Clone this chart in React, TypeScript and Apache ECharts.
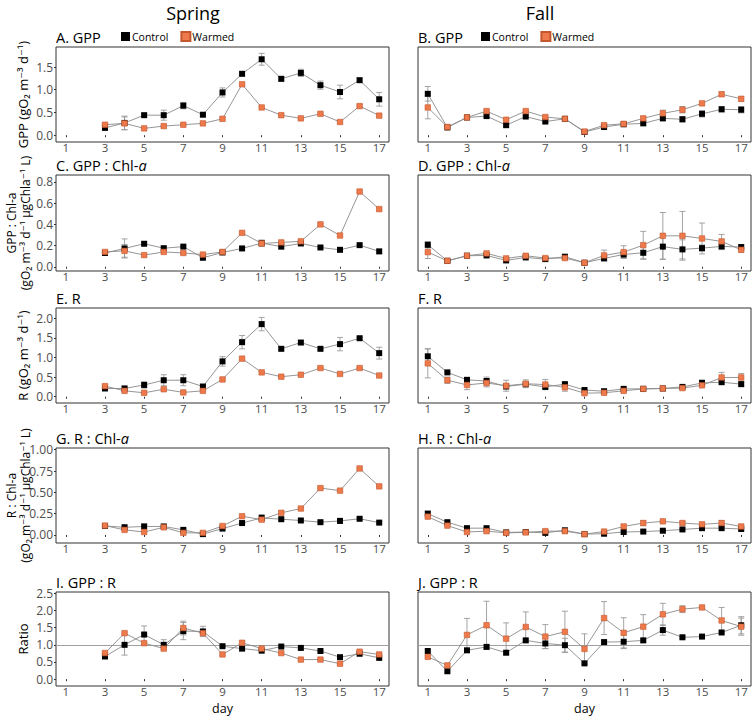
import React, { useEffect, useRef } from "react";
import * as echarts from "echarts";

// ---------- categories ----------
const days = ["1", "2", "3", "4", "5", "6", "7", "8", "9", "10", "11", "12", "13", "14", "15", "16", "17"];
const springStart = 2; // spring series start at day 3 (index 2)

// ---------- tick labels ----------
const gppTicks = [0, 0.5, 1.0, 1.5];
const gppChlTicks = [0, 0.2, 0.4, 0.6, 0.8];
const rTicks = [0, 0.5, 1.0, 1.5, 2.0];
const rChlTicks = [0, 0.25, 0.5, 0.75, 1.0];
const ratioTicks = [0, 0.5, 1.0, 1.5, 2.0, 2.5];

// ---------- A. GPP spring (days 3-17) ----------
const gppSpringControl = [0.16, 0.27, 0.44, 0.44, 0.65, 0.45, 0.94, 1.35, 1.67, 1.24, 1.37, 1.1, 0.95, 1.21, 0.79];
const gppSpringControlErr = [0.03, 0.15, 0.03, 0.11, 0.07, 0.03, 0.1, 0.04, 0.13, 0.05, 0.08, 0.09, 0.15, 0.04, 0.15];
const gppSpringWarmed = [0.23, 0.26, 0.15, 0.2, 0.23, 0.26, 0.36, 1.12, 0.61, 0.44, 0.37, 0.47, 0.29, 0.64, 0.43];
const gppSpringWarmedErr = [0.02, 0.14, 0.02, 0.02, 0.02, 0.02, 0.02, 0.02, 0.02, 0.02, 0.02, 0.02, 0.02, 0.03, 0.02];

// ---------- B. GPP fall (days 1-17) ----------
const gppFallControl = [0.91, 0.17, 0.39, 0.42, 0.22, 0.41, 0.3, 0.36, 0.07, 0.18, 0.24, 0.26, 0.37, 0.35, 0.47, 0.57, 0.56];
const gppFallControlErr = [0.16, 0.02, 0.02, 0.03, 0.02, 0.02, 0.02, 0.02, 0.02, 0.03, 0.02, 0.03, 0.05, 0.06, 0.07, 0.06, 0.07];
const gppFallWarmed = [0.61, 0.18, 0.39, 0.53, 0.34, 0.53, 0.4, 0.36, 0.08, 0.22, 0.25, 0.37, 0.48, 0.56, 0.7, 0.9, 0.8];
const gppFallWarmedErr = [0.25, 0.02, 0.02, 0.03, 0.02, 0.02, 0.03, 0.02, 0.02, 0.04, 0.02, 0.04, 0.07, 0.07, 0.02, 0.05, 0.05];

// ---------- C. GPP : Chl-a spring ----------
const gppChlSpringControl = [0.13, 0.173, 0.217, 0.175, 0.19, 0.085, 0.135, 0.173, 0.223, 0.19, 0.22, 0.182, 0.16, 0.204, 0.145];
const gppChlSpringControlErr = [0.01, 0.09, 0.01, 0.02, 0.01, 0.01, 0.01, 0.01, 0.03, 0.02, 0.01, 0.01, 0.02, 0.01, 0.02];
const gppChlSpringWarmed = [0.14, 0.15, 0.11, 0.14, 0.13, 0.115, 0.14, 0.32, 0.22, 0.23, 0.24, 0.4, 0.295, 0.71, 0.544];
const gppChlSpringWarmedErr = [0.01, 0.06, 0.01, 0.01, 0.01, 0.01, 0.01, 0.01, 0.02, 0.01, 0.01, 0.01, 0.01, 0.01, 0.01];

// ---------- D. GPP : Chl-a fall ----------
const gppChlFallControl = [0.207, 0.056, 0.104, 0.107, 0.06, 0.088, 0.072, 0.095, 0.038, 0.079, 0.116, 0.132, 0.19, 0.164, 0.176, 0.192, 0.186];
const gppChlFallControlErr = [0.03, 0.01, 0.01, 0.01, 0.01, 0.01, 0.01, 0.01, 0.01, 0.02, 0.03, 0.06, 0.12, 0.09, 0.03, 0.03, 0.02];
const gppChlFallWarmed = [0.138, 0.056, 0.104, 0.126, 0.079, 0.104, 0.082, 0.082, 0.038, 0.107, 0.138, 0.204, 0.292, 0.292, 0.267, 0.239, 0.16];
const gppChlFallWarmedErr = [0.06, 0.01, 0.01, 0.01, 0.01, 0.01, 0.01, 0.01, 0.01, 0.05, 0.06, 0.13, 0.22, 0.23, 0.146, 0.066, 0.02];

// ---------- E. R spring ----------
const rSpringControl = [0.21, 0.21, 0.3, 0.42, 0.42, 0.26, 0.9, 1.39, 1.85, 1.22, 1.38, 1.22, 1.34, 1.49, 1.11];
const rSpringControlErr = [0.02, 0.06, 0.08, 0.14, 0.14, 0.02, 0.12, 0.17, 0.17, 0.03, 0.05, 0.03, 0.17, 0.03, 0.15];
const rSpringWarmed = [0.27, 0.15, 0.1, 0.19, 0.11, 0.15, 0.44, 0.97, 0.62, 0.51, 0.56, 0.73, 0.58, 0.73, 0.54];
const rSpringWarmedErr = [0.02, 0.02, 0.02, 0.02, 0.02, 0.02, 0.02, 0.02, 0.02, 0.02, 0.02, 0.02, 0.02, 0.02, 0.02];

// ---------- F. R fall ----------
const rFallControl = [1.03, 0.62, 0.43, 0.4, 0.26, 0.32, 0.25, 0.32, 0.17, 0.14, 0.2, 0.2, 0.21, 0.25, 0.35, 0.37, 0.32];
const rFallControlErr = [0.19, 0.03, 0.03, 0.1, 0.03, 0.03, 0.04, 0.03, 0.02, 0.02, 0.02, 0.02, 0.02, 0.02, 0.08, 0.04, 0.04];
const rFallWarmed = [0.85, 0.42, 0.3, 0.35, 0.28, 0.33, 0.31, 0.24, 0.09, 0.1, 0.15, 0.2, 0.21, 0.22, 0.29, 0.49, 0.49];
const rFallWarmedErr = [0.37, 0.08, 0.12, 0.1, 0.14, 0.1, 0.13, 0.1, 0.03, 0.03, 0.03, 0.02, 0.04, 0.03, 0.04, 0.13, 0.1];

// ---------- G. R : Chl-a spring ----------
const rChlSpringControl = [0.106, 0.09, 0.1, 0.1, 0.06, 0.01, 0.075, 0.14, 0.2, 0.185, 0.17, 0.15, 0.165, 0.19, 0.145];
const rChlSpringControlErr = [0.01, 0.03, 0.03, 0.01, 0.01, 0.01, 0.01, 0.01, 0.04, 0.02, 0.01, 0.01, 0.03, 0.01, 0.01];
const rChlSpringWarmed = [0.11, 0.06, 0.035, 0.09, 0.025, 0.025, 0.105, 0.22, 0.18, 0.26, 0.31, 0.55, 0.52, 0.78, 0.57];
const rChlSpringWarmedErr = [0.01, 0.01, 0.01, 0.01, 0.01, 0.01, 0.01, 0.01, 0.01, 0.01, 0.01, 0.01, 0.01, 0.01, 0.01];

// ---------- H. R : Chl-a fall ----------
const rChlFallControl = [0.25, 0.15, 0.08, 0.08, 0.03, 0.035, 0.025, 0.055, 0.01, 0.015, 0.035, 0.04, 0.05, 0.065, 0.08, 0.08, 0.07];
const rChlFallControlErr = [0.03, 0.01, 0.01, 0.01, 0.01, 0.01, 0.01, 0.01, 0.01, 0.01, 0.01, 0.01, 0.01, 0.01, 0.01, 0.01, 0.01];
const rChlFallWarmed = [0.215, 0.11, 0.035, 0.045, 0.025, 0.03, 0.045, 0.045, 0.01, 0.04, 0.1, 0.14, 0.16, 0.14, 0.125, 0.14, 0.1];
const rChlFallWarmedErr = [0.02, 0.01, 0.02, 0.02, 0.01, 0.01, 0.02, 0.02, 0.01, 0.01, 0.02, 0.03, 0.01, 0.02, 0.02, 0.03, 0.02];

// ---------- I. GPP : R spring ----------
const ratioSpringControl = [0.66, 1.0, 1.3, 1.0, 1.4, 1.39, 0.96, 0.89, 0.83, 0.95, 0.91, 0.82, 0.64, 0.74, 0.62];
const ratioSpringControlErr = [0.03, 0.3, 0.25, 0.15, 0.25, 0.15, 0.03, 0.06, 0.03, 0.02, 0.02, 0.02, 0.02, 0.02, 0.02];
const ratioSpringWarmed = [0.76, 1.34, 1.05, 0.89, 1.49, 1.34, 0.72, 1.06, 0.89, 0.76, 0.57, 0.57, 0.45, 0.8, 0.72];
const ratioSpringWarmedErr = [0.03, 0.03, 0.03, 0.03, 0.2, 0.03, 0.03, 0.04, 0.02, 0.02, 0.02, 0.02, 0.02, 0.02, 0.02];

// ---------- J. GPP : R fall ----------
const ratioFallControl = [0.82, 0.23, 0.84, 0.94, 0.77, 1.13, 1.04, 0.99, 0.46, 1.08, 1.09, 1.13, 1.43, 1.22, 1.24, 1.36, 1.57];
const ratioFallControlErr = [0.05, 0.03, 0.03, 0.05, 0.03, 0.04, 0.15, 0.2, 0.03, 0.05, 0.2, 0.05, 0.15, 0.03, 0.03, 0.03, 0.25];
const ratioFallWarmed = [0.65, 0.4, 1.29, 1.57, 1.18, 1.52, 1.24, 1.38, 0.88, 1.78, 1.35, 1.53, 1.89, 2.04, 2.09, 1.71, 1.53];
const ratioFallWarmedErr = [0.03, 0.05, 0.48, 0.7, 0.46, 0.44, 0.35, 0.6, 0.44, 0.48, 0.44, 0.35, 0.32, 0.1, 0.03, 0.38, 0.25];

// ---------- layout (not data) ----------
const FONT = "'Open Sans', 'DejaVu Sans', sans-serif";
const W = 755;
const H = 716;
const COL_LEFT = [56, 418];
const GRID_W = 333;
const ROW_TOP = [47, 175, 308, 448, 592];
const ROW_H = [95, 96, 95, 95, 94];

type RowSpec = { min: number; max: number; ticks: number[]; dec: number; yTitle: string[] };
const rows: RowSpec[] = [
  { min: -0.15, max: 1.94, ticks: gppTicks, dec: 1, yTitle: ["GPP (gO\u2082 m\u207B\u00B3 d\u207B\u00B9)"] },
  { min: -0.04, max: 0.866, ticks: gppChlTicks, dec: 1, yTitle: ["GPP : Chl-a", "(gO\u2082 m\u207B\u00B3 d\u207B\u00B9 \u03BCgChla\u207B\u00B9 L)"] },
  { min: -0.16, max: 2.26, ticks: rTicks, dec: 1, yTitle: ["R (gO\u2082 m\u207B\u00B3 d\u207B\u00B9)"] },
  { min: -0.094, max: 1.02, ticks: rChlTicks, dec: 2, yTitle: ["R : Chl-a", "(gO\u2082 m\u207B\u00B3 d\u207B\u00B9 \u03BCgChla\u207B\u00B9 L)"] },
  { min: -0.2, max: 2.54, ticks: ratioTicks, dec: 1, yTitle: ["Ratio"] },
];

type Panel = {
  label: string;
  italic: string;
  row: number;
  col: number;
  start: number;
  control: number[];
  controlErr: number[];
  warmed: number[];
  warmedErr: number[];
};

const panels: Panel[] = [
  { label: "A. GPP", italic: "", row: 0, col: 0, start: springStart, control: gppSpringControl, controlErr: gppSpringControlErr, warmed: gppSpringWarmed, warmedErr: gppSpringWarmedErr },
  { label: "B. GPP", italic: "", row: 0, col: 1, start: 0, control: gppFallControl, controlErr: gppFallControlErr, warmed: gppFallWarmed, warmedErr: gppFallWarmedErr },
  { label: "C. GPP : Chl-", italic: "a", row: 1, col: 0, start: springStart, control: gppChlSpringControl, controlErr: gppChlSpringControlErr, warmed: gppChlSpringWarmed, warmedErr: gppChlSpringWarmedErr },
  { label: "D. GPP : Chl-", italic: "a", row: 1, col: 1, start: 0, control: gppChlFallControl, controlErr: gppChlFallControlErr, warmed: gppChlFallWarmed, warmedErr: gppChlFallWarmedErr },
  { label: "E. R", italic: "", row: 2, col: 0, start: springStart, control: rSpringControl, controlErr: rSpringControlErr, warmed: rSpringWarmed, warmedErr: rSpringWarmedErr },
  { label: "F. R", italic: "", row: 2, col: 1, start: 0, control: rFallControl, controlErr: rFallControlErr, warmed: rFallWarmed, warmedErr: rFallWarmedErr },
  { label: "G. R : Chl-", italic: "a", row: 3, col: 0, start: springStart, control: rChlSpringControl, controlErr: rChlSpringControlErr, warmed: rChlSpringWarmed, warmedErr: rChlSpringWarmedErr },
  { label: "H. R : Chl-", italic: "a", row: 3, col: 1, start: 0, control: rChlFallControl, controlErr: rChlFallControlErr, warmed: rChlFallWarmed, warmedErr: rChlFallWarmedErr },
  { label: "I. GPP : R", italic: "", row: 4, col: 0, start: springStart, control: ratioSpringControl, controlErr: ratioSpringControlErr, warmed: ratioSpringWarmed, warmedErr: ratioSpringWarmedErr },
  { label: "J. GPP : R", italic: "", row: 4, col: 1, start: 0, control: ratioFallControl, controlErr: ratioFallControlErr, warmed: ratioFallWarmed, warmedErr: ratioFallWarmedErr },
];

const CONTROL_COLOR = "#000000";
const WARMED_COLOR = "#EE7A4C";
const WARMED_BORDER = "#C4572D";
const LINE_COLOR = "#8a8a8a";
const ERR_COLOR = "#9a9a9a";
const LABEL_COLOR = "#4d4d4d";

function pad(values: number[], start: number): (number | string)[] {
  const out: (number | string)[] = [];
  for (let i = 0; i < start; i++) out.push("-");
  return out.concat(values);
}

function errData(values: number[], errs: number[], start: number) {
  return values.map((v, i) => [start + i, v - errs[i], v + errs[i]]);
}

const renderErr = (_params: any, api: any) => {
  const x = api.value(0);
  const lo = api.value(1);
  const hi = api.value(2);
  const pHi = api.coord([x, hi]);
  const pLo = api.coord([x, lo]);
  const w = 3;
  const style = { stroke: ERR_COLOR, lineWidth: 0.9 };
  return {
    type: "group",
    children: [
      { type: "line", shape: { x1: pHi[0], y1: pHi[1], x2: pLo[0], y2: pLo[1] }, style },
      { type: "line", shape: { x1: pHi[0] - w, y1: pHi[1], x2: pHi[0] + w, y2: pHi[1] }, style },
      { type: "line", shape: { x1: pLo[0] - w, y1: pLo[1], x2: pLo[0] + w, y2: pLo[1] }, style },
    ],
  };
};

function buildOption() {
  const grid: any[] = [];
  const xAxis: any[] = [];
  const yAxis: any[] = [];
  const series: any[] = [];
  const graphic: any[] = [];

  panels.forEach((p, g) => {
    const r = rows[p.row];
    grid.push({
      left: COL_LEFT[p.col],
      top: ROW_TOP[p.row],
      width: GRID_W,
      height: ROW_H[p.row],
      show: true,
      borderColor: "#333333",
      borderWidth: 1,
      backgroundColor: "transparent",
    });
    xAxis.push({
      type: "category",
      gridIndex: g,
      data: days,
      boundaryGap: true,
      axisLine: { show: false },
      axisTick: { show: true, interval: 1, alignWithLabel: true, length: 2, lineStyle: { color: "#333333" } },
      axisLabel: { interval: 1, color: LABEL_COLOR, fontSize: 11.5, lineHeight: 11, fontFamily: FONT, margin: 0 },
      splitLine: { show: false },
      name: p.row === 4 ? "day" : "",
      nameLocation: "middle",
      nameGap: 16,
      nameTextStyle: { color: "#000", fontSize: 12.5, lineHeight: 12, fontFamily: FONT },
    });
    yAxis.push({
      type: "value",
      gridIndex: g,
      min: r.min,
      max: r.max,
      axisLine: { show: false },
      splitLine: { show: false },
      axisTick: { show: p.col === 0, customValues: r.ticks, length: 2, lineStyle: { color: "#333333" } },
      axisLabel: {
        show: p.col === 0,
        customValues: r.ticks,
        formatter: (v: number) => v.toFixed(r.dec),
        color: LABEL_COLOR,
        fontSize: 12,
        lineHeight: 12,
        fontFamily: FONT,
        margin: 3,
      },
    });
    series.push({
      type: "custom",
      name: "err",
      xAxisIndex: g,
      yAxisIndex: g,
      renderItem: renderErr,
      data: errData(p.control, p.controlErr, p.start).concat(errData(p.warmed, p.warmedErr, p.start)),
      encode: { x: 0, y: [1, 2] },
      silent: true,
      z: 1,
    });
    const controlSeries: any = {
      type: "line",
      name: "Control",
      xAxisIndex: g,
      yAxisIndex: g,
      data: pad(p.control, p.start),
      symbol: "rect",
      symbolSize: 6,
      itemStyle: { color: CONTROL_COLOR },
      lineStyle: { color: LINE_COLOR, width: 0.9 },
      z: 2,
    };
    if (p.row === 4) {
      controlSeries.markLine = {
        silent: true,
        symbol: ["none", "none"],
        label: { show: false },
        lineStyle: { color: "#a0a0a0", width: 1, type: "solid" },
        data: [{ yAxis: 1 }],
        z: 0,
      };
    }
    series.push(controlSeries);
    series.push({
      type: "line",
      name: "Warmed",
      xAxisIndex: g,
      yAxisIndex: g,
      data: pad(p.warmed, p.start),
      symbol: "rect",
      symbolSize: 5.5,
      itemStyle: { color: WARMED_COLOR, borderColor: WARMED_BORDER, borderWidth: 0.6 },
      lineStyle: { color: LINE_COLOR, width: 0.9 },
      z: 2,
    });

    // panel title
    graphic.push({
      type: "text",
      x: COL_LEFT[p.col],
      y: ROW_TOP[p.row] - 9.5,
      silent: true,
      style: {
        text: p.italic ? `{n|${p.label}}{i|${p.italic}}` : `{n|${p.label}}`,
        verticalAlign: "middle",
        textAlign: "left",
        rich: {
          n: { fontSize: 14.5, lineHeight: 14, fontFamily: FONT, fill: "#000" },
          i: { fontSize: 14.5, lineHeight: 14, fontFamily: FONT, fontStyle: "italic", fill: "#000" },
        },
      },
    });
  });

  // y-axis titles
  rows.forEach((r, i) => {
    const cy = ROW_TOP[i] + ROW_H[i] / 2;
    const xs = r.yTitle.length === 1 ? [23] : [11, 25];
    r.yTitle.forEach((t, k) => {
      graphic.push({
        type: "text",
        x: xs[k],
        y: cy,
        rotation: Math.PI / 2,
        silent: true,
        style: {
          text: t,
          textAlign: "center",
          verticalAlign: "middle",
          fontSize: r.yTitle.length === 1 ? 13 : 12,
          lineHeight: r.yTitle.length === 1 ? 13 : 11,
          fontFamily: FONT,
          fill: "#000",
        },
      });
    });
  });

  // column headers
  graphic.push({
    type: "text", x: 193, y: 13, silent: true,
    style: { text: "Spring", textAlign: "center", verticalAlign: "middle", fontSize: 18, fontFamily: FONT, fill: "#000" },
  });
  graphic.push({
    type: "text", x: 540, y: 13, silent: true,
    style: { text: "Fall", textAlign: "center", verticalAlign: "middle", fontSize: 18, fontFamily: FONT, fill: "#000" },
  });

  const legendBase = {
    data: ["Control", "Warmed"],
    orient: "horizontal",
    top: 31,
    padding: 0,
    itemWidth: 9,
    itemHeight: 9,
    itemGap: 12,
    icon: "rect",
    selectedMode: false,
    textStyle: { fontSize: 10.5, fontFamily: FONT, color: "#000", padding: [0, 0, 0, -3] },
  };

  return {
    animation: false,
    backgroundColor: "#ffffff",
    legend: [
      { ...legendBase, left: 121 },
      { ...legendBase, left: 481 },
    ],
    grid,
    xAxis,
    yAxis,
    series,
    graphic,
  };
}

export default function App() {
  const ref = useRef<HTMLDivElement>(null);
  useEffect(() => {
    if (!ref.current) return;
    const chart = echarts.init(ref.current, undefined, { renderer: "svg" });
    chart.setOption(buildOption() as any);
    return () => chart.dispose();
  }, []);
  return (
    <div
      ref={ref}
      style={{ position: "fixed", left: 0, top: 0, width: W, height: H, background: "#fff" }}
    />
  );
}
